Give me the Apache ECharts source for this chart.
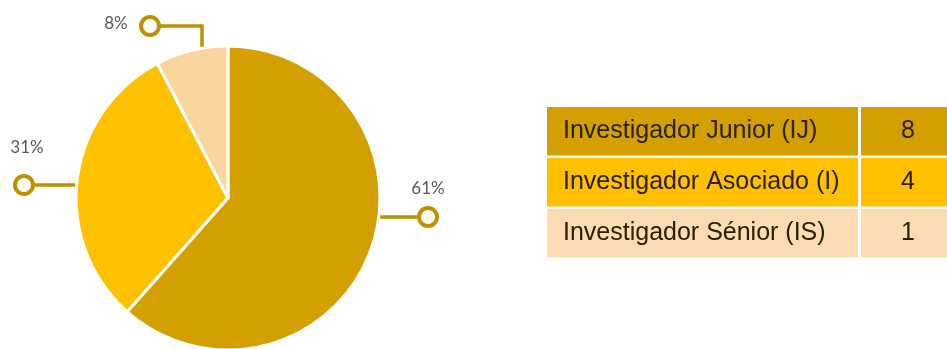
<!DOCTYPE html>
<html>
<head>
<meta charset="utf-8">
<script src="https://cdn.jsdelivr.net/npm/echarts@6/dist/echarts.min.js"></script>
<style>html,body{margin:0;padding:0;background:#fff}#c{width:947px;height:349px}</style>
</head>
<body>
<div id="c"></div>
<script>
// ---- data ----
const categories = ['Investigador Junior (IJ)', 'Investigador Asociado (I)', 'Investigador Sénior (IS)'];
const counts = [8, 4, 1];
const percentLabels = ['61%', '31%', '8%'];

// ---- styles / layout ----
const sliceColors = ['#D4A000', '#FFC000', '#FBD59E'];
const rowColors = ['#D4A000', '#FFC000', '#FBDCB3'];
const lineColor = '#BF9000';
const CX = 228, CY = 198, R = 152;
const circleR = 9;
// callout circle centres & text anchors (Excel-style manual placement)
const callout = [
  { c: [428, 217], t: [428, 189] },
  { c: [24, 185],  t: [27, 148] },
  { c: [150, 26],  t: [116, 24] }
];
function edgeXRight(y){ return CX + Math.sqrt(R*R - (y-CY)*(y-CY)); }
function edgeXLeft(y){ return CX - Math.sqrt(R*R - (y-CY)*(y-CY)); }
function edgeYTop(x){ return CY - Math.sqrt(R*R - (x-CX)*(x-CX)); }
function linePoints(i){
  const c = callout[i].c;
  if (i === 0) { const e = edgeXRight(c[1]) - 1; return [[e, c[1]], [(e + c[0])/2, c[1]], [c[0], c[1]]]; }
  if (i === 1) { const e = edgeXLeft(c[1]) + 1; return [[e, c[1]], [(e + c[0])/2, c[1]], [c[0], c[1]]]; }
  const x = 202; return [[x, edgeYTop(x) + 2], [x, c[1]], [c[0], c[1]]];
}

const pieData = counts.map((v, i) => ({ value: v, name: categories[i], itemStyle: { color: sliceColors[i] } }));
const textData = counts.map((v, i) => ({ value: v, name: categories[i] }));

// table graphic built from arrays
const T = { x: 547, y: 107, w1: 311, gap: 3, w2: 100, rowH: 48.5, step: 51, padL: 16, numCx: 908 };
const tableFont = '25px "Liberation Sans", Arial, sans-serif';
const graphics = [];
categories.forEach((name, i) => {
  const top = T.y + i * T.step;
  graphics.push({ type: 'rect', left: T.x, top: top, shape: { width: T.w1, height: T.rowH }, style: { fill: rowColors[i] }, silent: true });
  graphics.push({ type: 'rect', left: T.x + T.w1 + T.gap, top: top, shape: { width: T.w2, height: T.rowH }, style: { fill: rowColors[i] }, silent: true });
  graphics.push({ type: 'text', x: T.x + T.padL, y: top + T.rowH / 2, style: { text: name, fill: '#2B2100', font: tableFont, textVerticalAlign: 'middle', textAlign: 'left' }, silent: true });
  graphics.push({ type: 'text', x: T.numCx, y: top + T.rowH / 2, style: { text: String(counts[i]), fill: '#2B2100', font: tableFont, textVerticalAlign: 'middle', textAlign: 'center' }, silent: true });
});

const chart = echarts.init(document.getElementById('c'), null, { renderer: 'canvas' });
chart.setOption({
  animation: false,
  backgroundColor: '#ffffff',
  graphic: graphics,
  series: [
    {
      type: 'pie',
      center: [CX, CY],
      radius: R,
      startAngle: 90,
      clockwise: true,
      avoidLabelOverlap: false,
      silent: true,
      itemStyle: { borderColor: '#ffffff', borderWidth: 3 },
      label: {
        show: true,
        position: 'outside',
        overflow: 'none',
        formatter: '{o| }',
        rich: { o: { width: 2 * circleR - 4, height: 2 * circleR - 4, borderWidth: 4, borderColor: lineColor, borderRadius: circleR, backgroundColor: '#ffffff' } }
      },
      labelLine: { show: true, lineStyle: { color: lineColor, width: 3.5 } },
      labelLayout: function (p) {
        const c = callout[p.dataIndex].c;
        return { x: c[0], y: c[1], align: 'center', verticalAlign: 'middle', labelLinePoints: linePoints(p.dataIndex) };
      },
      data: pieData
    },
    {
      type: 'pie',
      center: [CX, CY],
      radius: R,
      startAngle: 90,
      silent: true,
      z: 3,
      avoidLabelOverlap: false,
      itemStyle: { color: 'rgba(0,0,0,0)', borderWidth: 0 },
      label: {
        show: true,
        position: 'outside',
        overflow: 'none',
        edgeDistance: 0,
        formatter: p => percentLabels[p.dataIndex],
        fontFamily: 'Lato, "Open Sans", sans-serif',
        fontSize: 17,
        color: '#595959'
      },
      labelLine: { show: false },
      labelLayout: function (p) {
        const t = callout[p.dataIndex].t;
        return { x: t[0], y: t[1], align: 'center', verticalAlign: 'middle' };
      },
      data: textData
    }
  ]
});
</script>
</body>
</html>
